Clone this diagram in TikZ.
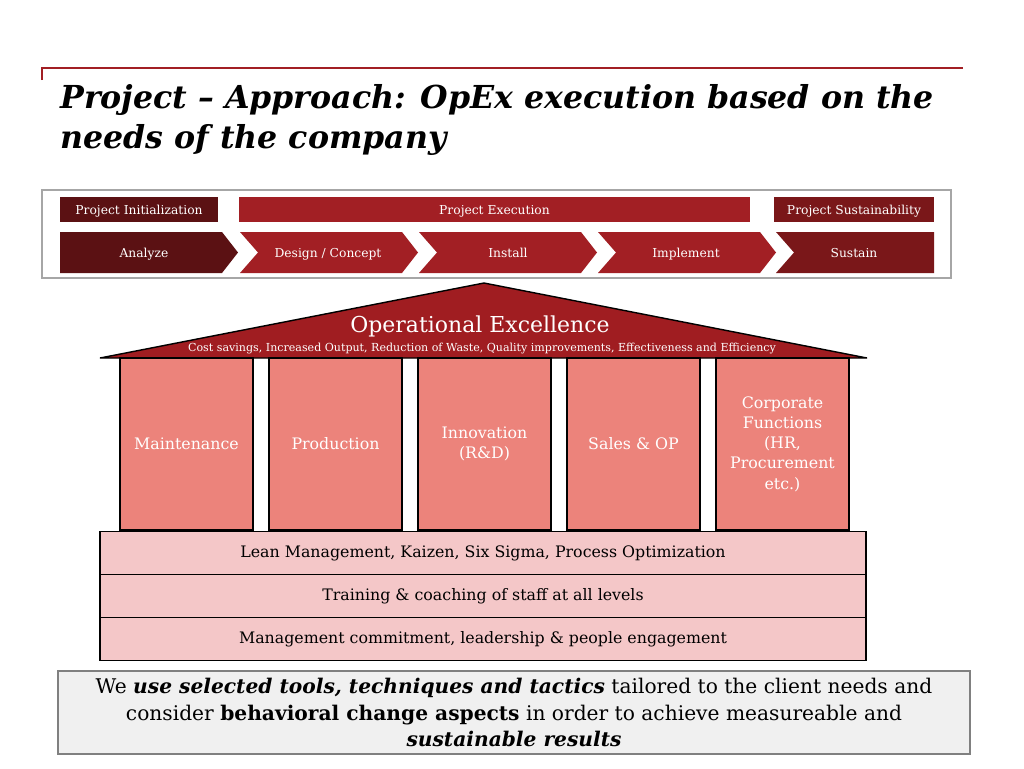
\documentclass[tikz,border=0pt]{standalone}
\usepackage{fontspec}
\setmainfont{DejaVu Serif}
\usetikzlibrary{positioning}

\definecolor{initred}{HTML}{5B1113}
\definecolor{execred}{HTML}{A21F24}
\definecolor{susred}{HTML}{7A1719}
\definecolor{roofred}{HTML}{A01D21}
\definecolor{pillarred}{HTML}{EC837B}
\definecolor{basepink}{HTML}{F4C7C8}
\definecolor{notegray}{HTML}{F0F0F0}

\tikzset{
  phaselabel/.style={text=white, inner sep=0pt, text height=0.75em, text depth=0.2em,
    font=\fontsize{7}{8}\selectfont},
  phasebar/.style={text=white, inner sep=0pt, text height=0.75em, text depth=0.2em,
    minimum height=0.5cm, font=\fontsize{7}{8}\selectfont},
  pillar/.style={draw=black, line width=0.8pt, fill=pillarred, text=white, align=center,
    minimum width=2.66cm, minimum height=3.44cm, font=\fontsize{9}{11.5}\selectfont},
  layer/.style={draw=black, line width=1.1pt, fill=basepink, minimum width=15.32cm,
    minimum height=0.86cm, font=\fontsize{9}{11}\selectfont}
}

\begin{document}
\begin{tikzpicture}[x=0.02cm, y=-0.02cm]
  \useasboundingbox (0,0) rectangle (1024,768);
  % title
  \draw[execred, line width=0.6pt] (42,80) -- (42,68) -- (963,68);
  \node[anchor=base west, align=left, inner sep=0pt, font=\fontsize{18}{22.7}\bfseries\itshape]
    (title) at (60,148) {Project -- Approach: OpEx execution based on the\\needs of the company};
  % phases
  \draw[gray!70, line width=0.8pt] (42,190) rectangle (951,278);
  \node[phasebar, fill=initred, minimum width=3.16cm] (init) at (139,209.5) {Project Initialization};
  \node[phasebar, fill=execred, minimum width=10.24cm] (exec) at (494.5,209.5) {Project Execution};
  \node[phasebar, fill=susred, minimum width=3.2cm] (sust) at (854,209.5) {Project Sustainability};
  \fill[initred] (60,232) -- (222,232) -- (238,252.5) -- (222,273) -- (60,273) -- cycle;
  \foreach \s in {240,419,598}
    \fill[execred] (\s,232) -- (\s+162,232) -- (\s+178,252.5) -- (\s+162,273) -- (\s,273)
      -- (\s+18,252.5) -- cycle;
  \fill[susred] (776,232) -- (934,232) -- (934,273) -- (776,273) -- (794,252.5) -- cycle;
  \node[phaselabel] (analyze) at (144,253) {Analyze};
  \node[phaselabel] (design) at (328,253) {Design / Concept};
  \node[phaselabel] (install) at (508,253) {Install};
  \node[phaselabel] (implement) at (686,253) {Implement};
  \node[phaselabel] (sustain) at (854,253) {Sustain};
  % roof
  \filldraw[fill=roofred, draw=black, line width=0.8pt] (100,358) -- (484,283) -- (867,358) -- cycle;
  \node[text=white, font=\fontsize{12.5}{14}\selectfont] (opex) at (480,326) {Operational Excellence};
  \node[text=white, font=\fontsize{6.3}{7}\selectfont] (goals) at (482,349)
    {Cost savings, Increased Output, Reduction of Waste, Quality improvements, Effectiveness and Efficiency};
  % pillars
  \node[pillar] (maint) at (186.5,444) {Maintenance};
  \node[pillar] (prod) at (335.5,444) {Production};
  \node[pillar] (innov) at (484.5,444) {Innovation\\(R\&D)};
  \node[pillar] (sales) at (633.5,444) {Sales \& OP};
  \node[pillar] (corp) at (782.5,444) {Corporate\\Functions\\(HR,\\Procurement\\etc.)};
  % foundation
  \node[layer] (lean) at (483,553) {Lean Management, Kaizen, Six Sigma, Process Optimization};
  \node[layer] (train) at (483,596) {Training \& coaching of staff at all levels};
  \node[layer] (commit) at (483,639) {Management commitment, leadership \& people engagement};
  % note
  \node[draw=gray, line width=0.8pt, fill=notegray, minimum width=18.24cm, minimum height=1.66cm,
    align=center, font=\fontsize{11.5}{15.3}\selectfont] (note) at (514,712.5)
    {We \textbf{\textit{use selected tools, techniques and tactics}} tailored to the client needs and\\
     consider \textbf{behavioral change aspects} in order to achieve measureable and\\
     \textbf{\textit{sustainable results}}};
\end{tikzpicture}
\end{document}
